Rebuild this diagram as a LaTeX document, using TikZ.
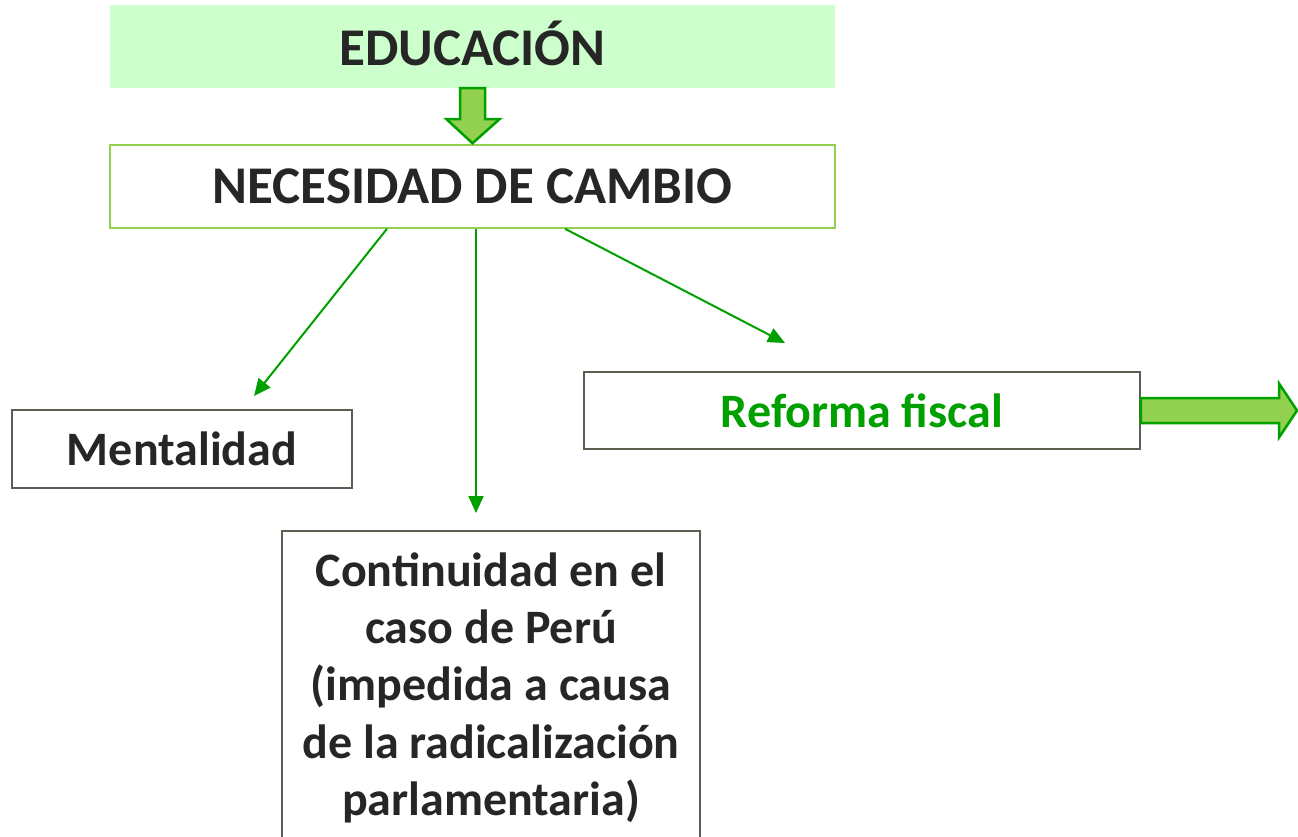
\documentclass[tikz,border=0pt]{standalone}
\usepackage{fontspec}
\setmainfont{Carlito}
\usetikzlibrary{arrows.meta,calc}
\definecolor{lgreen}{HTML}{CCFFCC}
\definecolor{mgreen}{HTML}{92D050}
\definecolor{dgreen}{HTML}{00A000}
\definecolor{boxgray}{HTML}{5A5F52}
\definecolor{txt}{HTML}{262626}
\begin{document}
\begin{tikzpicture}[x=1pt,y=-1pt,
 bigtxt/.style={font=\fontsize{53}{64}\selectfont\bfseries, text=txt},
 boxtxt/.style={font=\fontsize{48}{57}\selectfont\bfseries, text=txt},
 graybox/.style={draw=boxgray, line width=1.5pt, fill=white, inner sep=0pt},
 conn/.style={draw=dgreen, line width=2pt, -{Triangle[length=17pt,width=15pt]}},
 blockarrow/.style={draw=dgreen, fill=mgreen, line width=2.5pt, line join=miter}]
\clip (0,0) rectangle (1298,836);
\node[fill=lgreen, minimum width=725pt, minimum height=83pt, inner sep=0pt] (edu) at (472.5,46.5) {};
\node[bigtxt, inner sep=0pt] (edutxt) at ($(edu.center)+(0,-3)$) {EDUCACIÓN};
\node[draw=mgreen, line width=1.5pt, fill=white, minimum width=725pt, minimum height=83pt, inner sep=0pt, bigtxt] (nec) at (472.5,186.5) {NECESIDAD DE CAMBIO};
\node[graybox, minimum width=340pt, minimum height=78pt, boxtxt] (ment) at (182,449) {Mentalidad};
\node[graybox, minimum width=556pt, minimum height=77pt, boxtxt, text=dgreen] (ref) at (862,410.5) {Reforma fiscal};
\node[graybox, anchor=north, minimum width=418pt, inner ysep=4pt, minimum height=314pt, align=center, boxtxt, font=\fontsize{48}{57.2}\selectfont\bfseries] (cont) at (491,530) {Continuidad en el\\caso de Perú\\(impedida a causa\\de la radicalización\\parlamentaria)};
% block arrow down
\path[blockarrow] ($(edu.south)+(-12.5,0)$) -- ($(edu.south)+(12.5,0)$) -- ($(edu.south)+(12.5,31)$) -- ($(edu.south)+(27,31)$) -- ($(nec.north)+(0,-1)$) -- ($(edu.south)+(-26,31)$) -- ($(edu.south)+(-12.5,31)$) -- cycle;
% block arrow right
\coordinate (tipR) at (1297,410.5);
\path[blockarrow] ($(ref.east)+(0,-12.5)$) -- ($(tipR)+(-18,-12.5)$) -- ($(tipR)+(-18,-27)$) -- (tipR) -- ($(tipR)+(-18,27)$) -- ($(tipR)+(-18,12.5)$) -- ($(ref.east)+(0,12.5)$) -- cycle;
% connectors
\coordinate (e1) at (254,396);
\coordinate (e2) at (476,513);
\coordinate (e3) at (785,343);
\draw[conn] ($(nec.south)+(-85.5,0)$) -- (e1);
\draw[conn] ($(nec.south)+(3.5,0)$) -- (e2);
\draw[conn] ($(nec.south)+(92.5,0)$) -- (e3);
\end{tikzpicture}
\end{document}
